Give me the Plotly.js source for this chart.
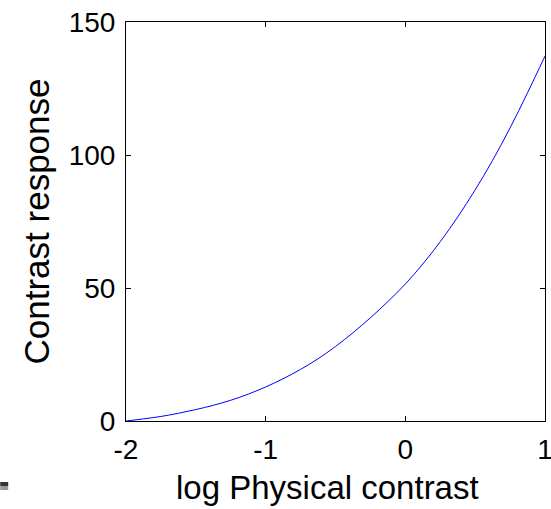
<!DOCTYPE html>
<html>
<head>
<meta charset="utf-8">
<script src="https://cdn.plot.ly/plotly-3.0.1.min.js"></script>
<style>html,body{margin:0;padding:0;background:#fff;}#chart{width:551px;height:509px;}</style>
</head>
<body>
<div id="chart"></div>
<script>
// Data
const logContrast = [-2, -1.875, -1.75, -1.625, -1.5, -1.375, -1.25, -1.125, -1, -0.875, -0.75, -0.625, -0.5,
                     -0.375, -0.25, -0.125, 0, 0.125, 0.25, 0.375, 0.5, 0.625, 0.75, 0.875, 1];
const response = [0, 0.8, 1.7, 2.9, 4.3, 5.9, 7.8, 10.1, 12.8, 15.9, 19.4, 23.4, 28.0,
                  33.2, 38.8, 44.9, 51.5, 59.0, 67.4, 76.7, 86.9, 98.0, 110.2, 123.4, 137.2];
const xTickVals = [-2, -1, 0, 1];
const yTickVals = [0, 50, 100, 150];
const xTitle = "log Physical contrast";
const yTitle = "Contrast response";

const font = "Liberation Sans, Arial, Helvetica, sans-serif";

const trace = {
  x: logContrast,
  y: response,
  type: "scatter",
  mode: "lines",
  line: {color: "#0000ff", width: 1, shape: "spline", smoothing: 1},
  hoverinfo: "skip"
};

const layout = {
  width: 551,
  height: 509,
  margin: {l: 126, r: 6, t: 22, b: 88, pad: 0},
  paper_bgcolor: "#ffffff",
  plot_bgcolor: "#ffffff",
  showlegend: false,
  font: {family: font, color: "#000000", size: 28},
  xaxis: {
    range: [-2, 1],
    tickvals: xTickVals,
    ticktext: xTickVals.map(String),
    ticks: "inside",
    ticklen: 5,
    tickcolor: "#000",
    tickwidth: 1,
    showline: true,
    linecolor: "#000",
    linewidth: 1,
    mirror: "ticks",
    showgrid: false,
    zeroline: false,
    tickfont: {family: font, size: 28, color: "#000"},
    ticklabelstandoff: 3,
    ticklabeloverflow: "allow"
  },
  yaxis: {
    range: [0, 150],
    tickvals: yTickVals,
    ticktext: yTickVals.map(String),
    ticks: "inside",
    ticklen: 5,
    tickcolor: "#000",
    tickwidth: 1,
    showline: true,
    linecolor: "#000",
    linewidth: 1,
    mirror: "ticks",
    showgrid: false,
    zeroline: false,
    tickfont: {family: font, size: 28, color: "#000"},
    ticklabelstandoff: 4,
    ticklabeloverflow: "allow",
    title: {text: yTitle, font: {family: font, size: 35, color: "#000"}, standoff: 8}
  },
  annotations: [
    {text: xTitle, xref: "paper", yref: "paper", x: 0.480, y: -0.166, xanchor: "center", yanchor: "middle",
     showarrow: false, font: {family: font, size: 33, color: "#000"}}
  ],
  shapes: [
    {type: "rect", xref: "paper", yref: "paper", x0: -0.3002, x1: -0.2811, y0: -0.1529, y1: -0.1629,
     fillcolor: "#333333", line: {width: 0}},
    {type: "rect", xref: "paper", yref: "paper", x0: -0.3002, x1: -0.2811, y0: -0.1629, y1: -0.1729,
     fillcolor: "#999999", line: {width: 0}}
  ]
};

Plotly.newPlot("chart", [trace], layout, {displayModeBar: false, staticPlot: true});
</script>
</body>
</html>
